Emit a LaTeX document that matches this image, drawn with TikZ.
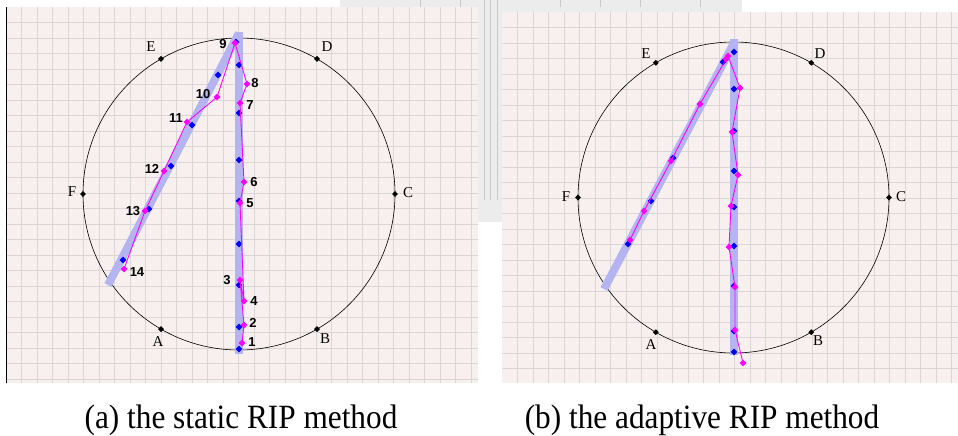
\documentclass[tikz,border=0pt]{standalone}
\usepackage{fontspec}
\setmainfont{Liberation Serif}
\newfontfamily\numfont{Liberation Sans}
\usetikzlibrary{shapes.geometric}
\definecolor{panelbg}{HTML}{F8EFEF}
\definecolor{gridc}{HTML}{DAD6D6}
\definecolor{bandc}{HTML}{B4B4F0}
\definecolor{photogray}{HTML}{ECECEC}
\definecolor{photoline}{HTML}{C8C8C8}
\definecolor{pinkc}{RGB}{255,0,255}
\definecolor{bluec}{RGB}{0,0,255}
\tikzset{
  dotb/.style={diamond, fill=bluec, inner sep=0pt, minimum size=7pt},
  dotp/.style={diamond, fill=pinkc, inner sep=0pt, minimum size=7pt},
  dotk/.style={diamond, fill=black, inner sep=0pt, minimum size=6pt},
  numlab/.style={font=\numfont\bfseries\fontsize{13}{13}\selectfont, inner sep=0pt},
  letlab/.style={font=\fontsize{15}{15}\selectfont, inner sep=0pt},
  band/.style={bandc, line width=8pt},
  trail/.style={pinkc, line width=0.9pt},
  gridline/.style={gridc, line width=0.8pt},
  caption/.style={font=\fontsize{34}{34}\selectfont, anchor=base, inner sep=0pt, xscale=0.92},
}
\begin{document}
\begin{tikzpicture}[x=1pt, y=-1pt]
\useasboundingbox (0,0) rectangle (958,436);
\fill[white] (0,0) rectangle (958,436);
% photo fragment behind panels
\fill[photogray] (340,0) rectangle (742,12);
\fill[photogray] (478,0) rectangle (502,222);
\foreach \xx in {484,490,497} \draw[photoline, line width=1pt] (\xx,0) -- (\xx,200);
\foreach \xx in {420,460,560,600,640,700} \draw[photoline, line width=1pt] (\xx,0) -- (\xx,7);
% ---------- left panel ----------
\fill[panelbg] (6,7) rectangle (478,383);
\foreach \k in {1,...,30} \draw[gridline] ({6+15.5*\k},7) -- ({6+15.5*\k},383);
\foreach \k in {1,...,24} \draw[gridline] (6,{7+15.5*\k}) -- (478,{7+15.5*\k});
\draw[black, line width=0.8pt] (6,7) -- (6,383);
\node[circle, draw, line width=0.6pt, minimum size=312pt, inner sep=0pt, outer sep=0pt] (cL) at (239,194) {};
% bands
\coordinate (bLt) at (239,32); \coordinate (bLb) at (239,354);
\coordinate (dLt) at (239,33); \coordinate (dLb) at (108,285);
\draw[band] (bLt) -- (bLb);
\draw[band] (dLt) -- (dLb);
% blue points
\foreach \n/\xx/\yy in {1/236/42,2/239/65,3/239/113,4/239/160,5/239/201,6/239/244,7/239/285,8/239/327,9/239/349,
  10/218/75,11/192/125,12/171/166,13/149/209,14/123/260}
  \node[dotb] (bl\n) at (\xx,\yy) {};
% pink track
\foreach \n/\xx/\yy in {1/242/343,2/244/325,3/240/280,4/244/301,5/240/203,6/244/182,7/240/103,
  8/247/84,9/235/43,10/217/97,11/187/122,12/164/171,13/145/211,14/124/269}
  \coordinate (pl\n) at (\xx,\yy);
\draw[trail] (pl1) \foreach \n in {2,...,14} { -- (pl\n) };
\foreach \n in {1,...,14} \node[dotp] (pld\n) at (pl\n) {};
% number labels
\foreach \n/\xx/\yy in {1/252/342,2/253/323,3/227/280,4/254/301,5/250/203,6/254/182,7/250/105,
  8/255/83,9/223/44,10/203/94,11/176/118,12/152/169,13/133/211,14/137/272}
  \node[numlab] (ll\n) at (\xx,\yy) {\n};
% circle marks
\node[dotk] (kLA) at (cL.240) {}; \node[dotk] (kLB) at (cL.300) {};
\node[dotk] (kLC) at (cL.0) {};   \node[dotk] (kLD) at (cL.60) {};
\node[dotk] (kLE) at (cL.120) {}; \node[dotk] (kLF) at (cL.180) {};
\node[letlab] (tLA) at (158,342) {A}; \node[letlab] (tLB) at (325,339) {B};
\node[letlab] (tLC) at (408,193) {C}; \node[letlab] (tLD) at (327,47) {D};
\node[letlab] (tLE) at (151,47) {E};  \node[letlab] (tLF) at (72,192) {F};
% ---------- right panel ----------
\fill[panelbg] (502,12) rectangle (958,383);
\foreach \k in {1,...,29} \draw[gridline] ({502+15.5*\k},12) -- ({502+15.5*\k},383);
\foreach \k in {1,...,23} \draw[gridline] (502,{12+15.5*\k}) -- (958,{12+15.5*\k});
\node[circle, draw, line width=0.6pt, minimum size=311pt, inner sep=0pt, outer sep=0pt] (cR) at (733.5,197.5) {};
\coordinate (bRt) at (734,39); \coordinate (bRb) at (734,355);
\coordinate (dRt) at (735,41); \coordinate (dRb) at (604,289);
\draw[band] (bRt) -- (bRb);
\draw[band] (dRt) -- (dRb);
\foreach \n/\xx/\yy in {1/734/52,2/734/89,3/734/131,4/734/171,5/734/207,6/734/246,7/734/286,8/734/331,9/734/352,
  10/723/62,11/700/104,12/673/158,13/651/201,14/628/244}
  \node[dotb] (br\n) at (\xx,\yy) {};
\foreach \n/\xx/\yy in {1/743/363,2/735/330,3/735/287,4/729/247,5/731/206,6/738/175,7/732/132,8/740/88,9/728/56}
  \coordinate (pv\n) at (\xx,\yy);
\foreach \n/\xx/\yy in {1/700/104,2/671/161,3/644/211,4/630/240}
  \coordinate (pd\n) at (\xx,\yy);
\draw[trail] (pv1) \foreach \n in {2,...,9} { -- (pv\n) } \foreach \n in {1,...,4} { -- (pd\n) };
\foreach \n in {1,...,9} \node[dotp] (pvd\n) at (pv\n) {};
\foreach \n in {1,...,4} \node[dotp] (pdd\n) at (pd\n) {};
\node[dotp] (pextra) at (726,59) {};
\node[dotk] (kRA) at (cR.240) {}; \node[dotk] (kRB) at (cR.300) {};
\node[dotk] (kRC) at (cR.0) {};   \node[dotk] (kRD) at (cR.60) {};
\node[dotk] (kRE) at (cR.120) {}; \node[dotk] (kRF) at (cR.180) {};
\node[letlab] (tRA) at (651,345) {A}; \node[letlab] (tRB) at (818,341) {B};
\node[letlab] (tRC) at (901,197) {C}; \node[letlab] (tRD) at (820,54) {D};
\node[letlab] (tRE) at (646,54) {E};  \node[letlab] (tRF) at (566,197) {F};
% ---------- captions ----------
\node[caption] (capA) at (241,428) {(a) the static RIP method};
\node[caption] (capB) at (702,428) {(b) the adaptive RIP method};
\end{tikzpicture}
\end{document}
